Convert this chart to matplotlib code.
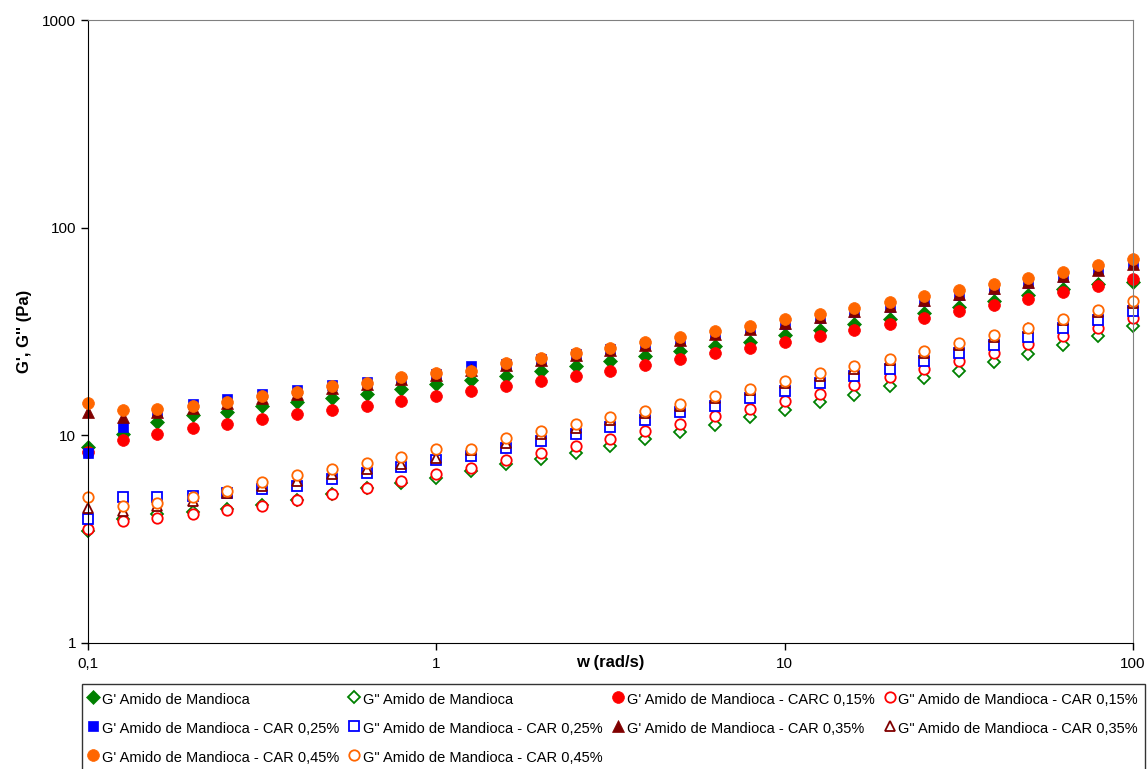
import matplotlib
matplotlib.use("Agg")
import matplotlib.pyplot as plt
import numpy as np

plt.rcParams['font.family'] = ['Liberation Sans', 'DejaVu Sans']

# frequencia (rad/s), 10 pontos por decada
w = [0.1, 0.126, 0.158, 0.2, 0.251, 0.316, 0.398, 0.501, 0.631, 0.794,
     1.0, 1.26, 1.58, 2.0, 2.51, 3.16, 3.98, 5.01, 6.31, 7.94,
     10.0, 12.6, 15.8, 20.0, 25.1, 31.6, 39.8, 50.1, 63.1, 79.4, 100.0]

g1_amido = [8.75, 10.2, 11.6, 12.5, 13.0, 13.8, 14.4, 15.1, 15.75, 16.8,
            17.6, 18.4, 19.4, 20.5, 21.5, 22.7, 24.0, 25.4, 26.8, 28.3,
            30.3, 32.2, 34.2, 36.4, 38.9, 41.3, 44.3, 47.2, 50.4, 53.3, 54.5]
g2_amido = [3.47, 3.94, 4.17, 4.26, 4.43, 4.60, 4.89, 5.20, 5.60, 5.92,
            6.21, 6.71, 7.25, 7.67, 8.24, 8.88, 9.64, 10.37, 11.17, 12.2,
            13.2, 14.5, 15.7, 17.2, 18.8, 20.5, 22.5, 24.7, 27.2, 30.1, 33.6]
g1_015 = [8.3, 9.46, 10.2, 10.9, 11.4, 12.0, 12.6, 13.2, 13.9, 14.6,
          15.4, 16.3, 17.2, 18.2, 19.4, 20.5, 21.7, 23.2, 24.8, 26.2,
          28.1, 30.1, 32.2, 34.5, 36.9, 39.5, 42.4, 45.5, 48.9, 52.3, 56.3]
g2_015 = [3.54, 3.87, 4.01, 4.17, 4.39, 4.57, 4.89, 5.20, 5.60, 6.03,
          6.49, 6.99, 7.61, 8.19, 8.88, 9.64, 10.5, 11.4, 12.4, 13.4,
          14.6, 15.9, 17.4, 19.0, 20.8, 22.8, 25.0, 27.4, 30.1, 33.0, 36.9]
g1_025 = [8.25, 11.0, 13.0, 14.2, 15.0, 15.75, 16.5, 17.4, 18.1, 18.6,
          19.7, 21.5, 22.0, 23.2, 24.6, 26.0, 27.4, 28.9, 30.6, 32.4,
          34.2, 36.6, 39.1, 41.5, 44.3, 47.3, 50.8, 54.2, 58.0, 62.3, 66.6]
g2_025 = [3.97, 5.02, 5.07, 5.10, 5.26, 5.49, 5.70, 6.14, 6.56, 7.04,
          7.61, 7.95, 8.73, 9.39, 10.2, 10.96, 11.85, 12.9, 13.9, 15.2,
          16.3, 17.8, 19.3, 20.9, 22.8, 24.8, 27.1, 29.9, 32.8, 35.9, 39.7]
g1_035 = [12.9, 12.3, 12.9, 13.5, 14.3, 15.2, 15.9, 16.9, 17.6, 18.6,
          19.6, 20.6, 21.8, 23.0, 24.3, 25.7, 27.3, 28.9, 30.7, 32.6,
          34.8, 37.0, 39.5, 42.0, 44.8, 47.8, 51.2, 54.8, 58.5, 62.7, 67.0]
g2_035 = [4.49, 4.32, 4.57, 4.83, 5.30, 5.70, 6.03, 6.49, 6.91, 7.25,
          7.81, 8.49, 9.22, 10.1, 10.9, 11.85, 12.8, 13.9, 15.2, 16.5,
          17.8, 19.3, 20.9, 23.0, 25.0, 27.1, 29.9, 32.8, 35.9, 39.2, 43.5]
g1_045 = [14.3, 13.3, 13.4, 13.9, 14.5, 15.4, 16.1, 17.2, 17.9, 19.0,
          20.0, 20.5, 22.4, 23.6, 25.0, 26.4, 28.1, 29.9, 31.8, 33.6,
          36.2, 38.5, 41.2, 43.8, 46.7, 50.0, 53.6, 57.4, 61.4, 65.8, 70.4]
g2_045 = [5.02, 4.57, 4.74, 5.07, 5.39, 5.96, 6.42, 6.91, 7.33, 7.90,
          8.63, 8.56, 9.75, 10.5, 11.3, 12.2, 13.1, 14.2, 15.5, 16.8,
          18.2, 19.9, 21.6, 23.4, 25.5, 27.7, 30.3, 33.0, 36.2, 40.0, 44.3]

labels = ["G' Amido de Mandioca",
          'G" Amido de Mandioca',
          "G' Amido de Mandioca - CARC 0,15%",
          'G" Amido de Mandioca - CAR 0,15%',
          "G' Amido de Mandioca - CAR 0,25%",
          'G" Amido de Mandioca - CAR 0,25%',
          "G' Amido de Mandioca - CAR 0,35%",
          'G" Amido de Mandioca - CAR 0,35%',
          "G' Amido de Mandioca - CAR 0,45%",
          'G" Amido de Mandioca - CAR 0,45%']

x_ticks = [0.1, 1, 10, 100]
x_ticklabels = ['0,1', '1', '10', '100']
y_ticks = [1, 10, 100, 1000]
y_ticklabels = ['1', '10', '100', '1000']

series = [g1_amido, g2_amido, g1_015, g2_015, g1_025, g2_025,
          g1_035, g2_035, g1_045, g2_045]
# (marcador, cor, cheio?, tamanho)
estilos = [('D', '#008000', True, 7.5),
           ('D', '#008000', False, 6.5),
           ('o', '#ff0000', True, 8.5),
           ('o', '#ff0000', False, 7.5),
           ('s', '#0000ff', True, 7.5),
           ('s', '#0000ff', False, 7.0),
           ('^', '#800000', True, 8.0),
           ('^', '#800000', False, 7.5),
           ('o', '#ff6600', True, 8.5),
           ('o', '#ff6600', False, 7.5)]

fig = plt.figure(figsize=(11.48, 7.69), dpi=100)
ax = fig.add_axes([88/1148, 1 - 643/769, (1133-88)/1148, (643-20)/769])

handles = []
for vals, lab, (mk, cor, cheio, ms) in zip(series, labels, estilos):
    h, = ax.plot(w, vals, linestyle='none', marker=mk, markersize=ms,
                 markerfacecolor=cor if cheio else 'white',
                 markeredgecolor=cor, markeredgewidth=1.3 if not cheio else 0.5,
                 label=lab, clip_on=False)
    handles.append(h)

ax.set_xscale('log')
ax.set_yscale('log')
ax.set_xlim(0.1, 100)
ax.set_ylim(1, 1000)
ax.set_xticks(x_ticks)
ax.set_xticklabels(x_ticklabels)
ax.set_yticks(y_ticks)
ax.set_yticklabels(y_ticklabels)
ax.minorticks_off()
ax.tick_params(direction='out', length=5, width=1, labelsize=11, colors='black')
ax.tick_params(axis='x', pad=5)

for s in ['top', 'right']:
    ax.spines[s].set_color('#808080')
ax.spines['left'].set_color('black')
ax.spines['bottom'].set_color('black')

ax.set_ylabel("G', G'' (Pa)", fontsize=12, fontweight='bold')
ax.yaxis.set_label_coords(-0.054, 0.5)
ax.set_xlabel('w (rad/s)', fontsize=12, fontweight='bold')
ax.xaxis.set_label_coords(0.5, -0.019)

# legenda em linhas (Excel), matplotlib preenche por coluna
ordem = [0, 4, 8, 1, 5, 9, 2, 6, 3, 7]
leg = fig.legend([handles[i] for i in ordem], [labels[i] for i in ordem],
                 ncol=4, loc='upper left',
                 bbox_to_anchor=(82/1148, 1 - 684/769),
                 fontsize=10.5, frameon=True, fancybox=False,
                 edgecolor='black', handlelength=0.6, handletextpad=0.3,
                 handleheight=1.5,
                 columnspacing=0.75, borderpad=0.45, labelspacing=0.76,
                 borderaxespad=0)
leg.get_frame().set_linewidth(1.0)

fig.savefig('out.png', dpi=100)
